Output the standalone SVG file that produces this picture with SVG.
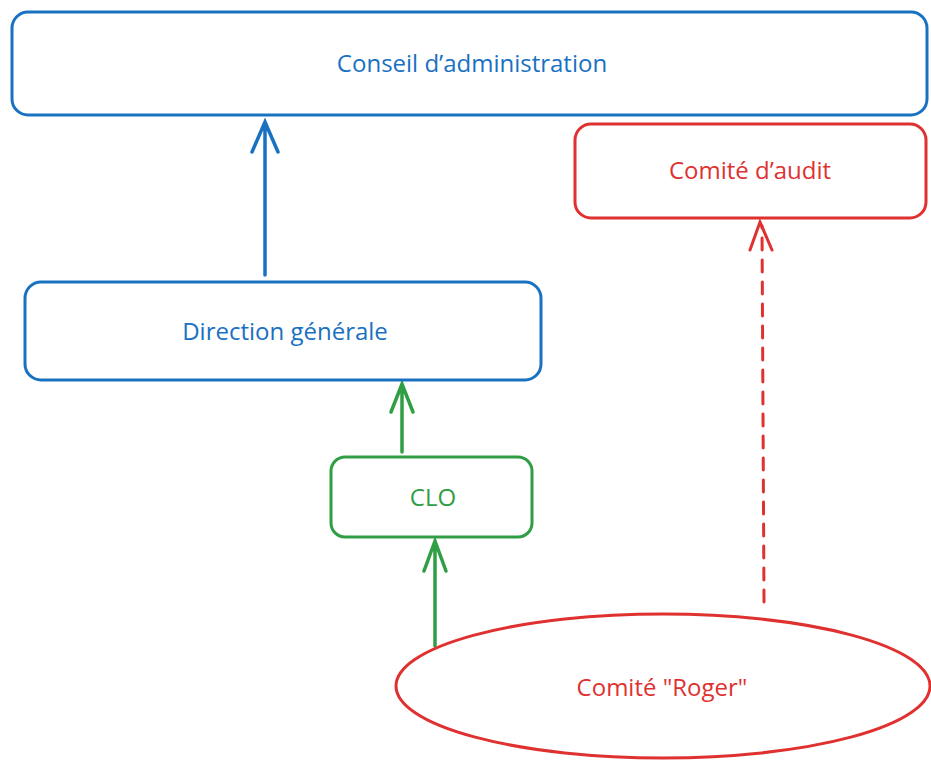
<svg xmlns="http://www.w3.org/2000/svg" width="931" height="760" viewBox="0 0 931 760">
<defs>
<style>
.b{fill:#fff;stroke:#1971c2;stroke-width:3}
.r{fill:#fff;stroke:#e03131;stroke-width:3}
.g{fill:#fff;stroke:#2f9e44;stroke-width:3}
text{font-family:"Open Sans","Liberation Sans",sans-serif;font-size:24px;text-anchor:middle;dominant-baseline:central}
.tb{fill:#1971c2}.tr{fill:#e03131}.tg{fill:#2f9e44}
.cb{stroke:#1971c2;stroke-width:3.5;fill:none;stroke-linecap:round}
.cg{stroke:#2f9e44;stroke-width:3.5;fill:none;stroke-linecap:round}
.cr{stroke:#e03131;stroke-width:3;fill:none;stroke-linecap:round}
</style>
</defs>
<rect width="931" height="760" fill="#fff"/>
<g id="connectors">
<path class="cb" d="M265 275 L265 122 M252 152 L265 122 L278 152"/>
<path class="cg" d="M402 452 L402 384 M391 412 L402 384 L413 412"/>
<path class="cg" d="M435 646 L435 541 M424 571 L435 541 L446 571"/>
<path class="cr" d="M764 602 L762 226" stroke-dasharray="12 10"/>
<path class="cr" d="M750 250 L760 222 L772 250"/>
</g>
<g id="conseil">
<rect class="b" x="12" y="12" width="915" height="103" rx="16"/>
<text class="tb" x="472" y="62">Conseil d’administration</text>
</g>
<g id="audit">
<rect class="r" x="575" y="124" width="351" height="94" rx="16"/>
<text class="tr" x="750" y="169">Comité d’audit</text>
</g>
<g id="direction">
<rect class="b" x="25" y="282" width="516" height="98" rx="16"/>
<text class="tb" x="285" y="330">Direction générale</text>
</g>
<g id="clo">
<rect class="g" x="331" y="457" width="201" height="80" rx="14"/>
<text class="tg" x="433" y="496">CLO</text>
</g>
<g id="roger">
<ellipse class="r" cx="663" cy="686" rx="267" ry="72"/>
<text class="tr" x="662" y="686">Comité "Roger"</text>
</g>
</svg>
